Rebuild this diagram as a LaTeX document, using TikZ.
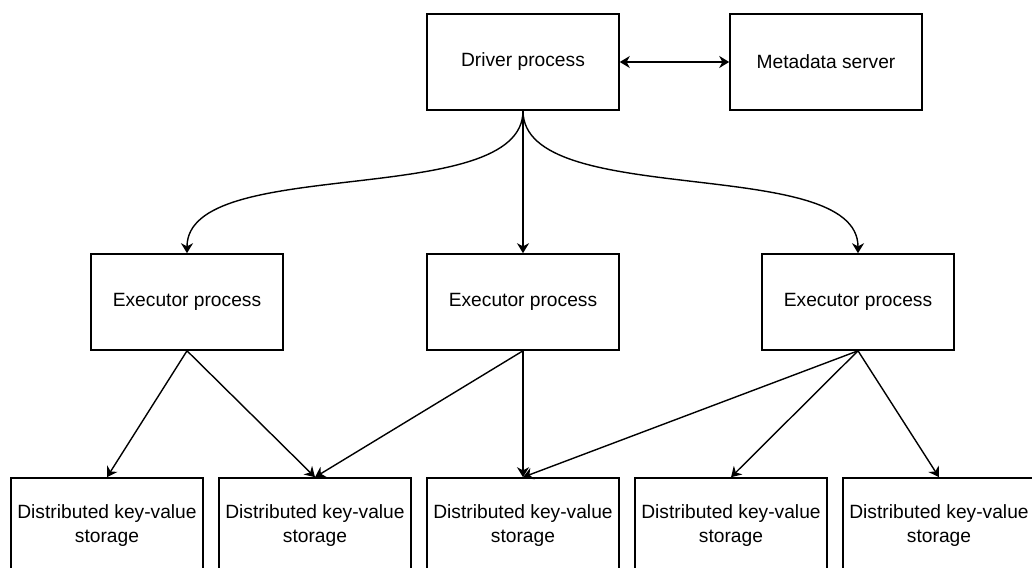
\documentclass[tikz,border=0pt]{standalone}
\usepackage{fontspec}
\setmainfont{Liberation Sans}
\usepackage{tikz}
\usetikzlibrary{arrows.meta}

\tikzset{
  proc/.style={draw, line width=.8pt, minimum width=96pt, minimum height=48pt,
    align=center, inner sep=0pt, font=\fontsize{9.6}{12}\selectfont},
  link/.style={draw, line width=.7pt, -{Stealth[length=5pt,width=6pt,inset=1.6pt]}},
}

\begin{document}
\begin{tikzpicture}[x=.5pt,y=-.5pt]
\useasboundingbox (0,0) rectangle (1032,567);
\clip (0,0) rectangle (1032,567);
% top row
\node [proc] (driver) at (523,62) {Driver process};
\node [proc] (meta) at (826,62) {Metadata server};
% executors
\node [proc] (exec1) at (187,302) {Executor process};
\node [proc] (exec2) at (523,302) {Executor process};
\node [proc] (exec3) at (858,302) {Executor process};
% storage row
\foreach \i/\x in {1/107,2/315,3/523,4/731,5/939}
  \node [proc] (kv\i) at (\x,526) {Distributed key-value\\storage};

\path [link, {Stealth[length=5pt,width=6pt,inset=1.6pt]}-{Stealth[length=5pt,width=6pt,inset=1.6pt]}] (driver.east) -- (meta.west);
\path [link] (driver.south) to [out=-90, in=90, looseness=.7] (exec1.north);
\path [link] (driver.south) -- (exec2.north);
\path [link] (driver.south) to [out=-90, in=90, looseness=.7] (exec3.north);

\path [link] (exec1.south) -- (kv1.north);
\path [link] (exec1.south) -- (kv2.north);
\path [link] (exec2.south) -- (kv2.north);
\path [link] (exec2.south) -- (kv3.north);
\path [link] (exec3.south) -- (kv3.north);
\path [link] (exec3.south) -- (kv4.north);
\path [link] (exec3.south) -- (kv5.north);
\end{tikzpicture}
\end{document}
